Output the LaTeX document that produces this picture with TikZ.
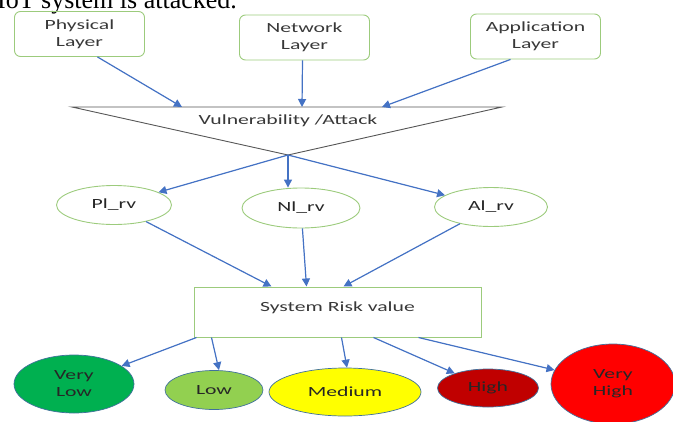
\documentclass[tikz,border=0pt]{standalone}
\usepackage{fontspec}
\setmainfont{Carlito}[FakeStretch=1.55]
\newfontfamily\pagefont{Liberation Serif}
\usetikzlibrary{arrows.meta,shapes.geometric,calc}
\definecolor{boxgreen}{HTML}{9CCB7C}
\definecolor{arrowblue}{HTML}{4472C4}
\definecolor{edgegray}{HTML}{555555}
\definecolor{labelgray}{HTML}{383838}
\definecolor{rimblue}{HTML}{41719C}
\definecolor{vlowgreen}{HTML}{00B050}
\definecolor{lowgreen}{HTML}{92D050}
\definecolor{medyellow}{HTML}{FFFF00}
\definecolor{highred}{HTML}{C00000}
\definecolor{vhighred}{HTML}{FF0000}

\begin{document}
\begin{tikzpicture}[x=1pt,y=-1pt,>={Triangle[width=8pt,length=8pt]},
  layer/.style={draw=boxgreen, line width=0.9pt, rounded corners=6pt, minimum width=130pt, minimum height=45pt, align=center, text=labelgray, font=\fontsize{14}{17}\selectfont},
  rv/.style={ellipse, draw=boxgreen, line width=0.9pt, inner sep=0pt, minimum width=115pt, minimum height=39pt, text=black!85, font=\fontsize{14}{17}\selectfont},
  risk/.style={ellipse, draw=rimblue, line width=0.7pt, inner sep=0pt, align=center, text=black!85, font=\fontsize{14}{17}\selectfont},
  link/.style={->, draw=arrowblue, fill=arrowblue, line width=1.2pt}]

  \useasboundingbox (0,0) rectangle (673,421);

  % text of the page above the figure
  \node[anchor=base west, inner sep=0pt, font=\pagefont\fontsize{26}{26}\selectfont] (cap) at (-3,8) {IoT system is attacked.};

  % layers
  \node[layer] (P) at (79.5,34)  {Physical\\Layer};
  \node[layer] (N) at (304.5,37.5) {Network\\Layer};
  \node[layer] (A) at (535.5,36.5) {Application\\Layer};

  % vulnerability / attack funnel
  \coordinate (tl)  at (72,107);
  \coordinate (tr)  at (502,107);
  \coordinate (tip) at (288,155);
  \coordinate (v1)  at (182,107);
  \coordinate (v2)  at (302,107);
  \coordinate (v3)  at (382,107);
  \draw[edgegray, line width=0.9pt] (tl) -- (tr) -- (tip) -- cycle;
  \node[text=labelgray, font=\fontsize{14}{17}\selectfont] (V) at (288,121) {Vulnerability /Attack};

  % risk values of the layers
  \node[rv] (Pl) at (114,205) {Pl\_rv};
  \node[rv, minimum width=118pt, minimum height=40pt] (Nl) at (301,208) {Nl\_rv};
  \node[rv, minimum width=113pt] (Al) at (491,207) {Al\_rv};

  % system risk
  \node[draw=boxgreen, line width=1pt, minimum width=287pt, minimum height=50pt, text height=9pt, text depth=11pt, text=labelgray, font=\fontsize{14}{17}\selectfont] (S) at (337.5,312) {System Risk value};

  % risk levels
  \node[risk, fill=vlowgreen, minimum width=120pt, minimum height=58pt] (VL) at (74,384) {Very\\Low};
  \node[risk, fill=lowgreen, minimum width=98pt, minimum height=39pt]  (Lo) at (214,390) {Low};
  \node[risk, fill=medyellow, minimum width=152pt, minimum height=48pt] (Me) at (345,392) {Medium};
  \node[risk, fill=highred, minimum width=101pt, minimum height=38pt]  (Hi) at (488,388) {High};
  \node[risk, fill=vhighred, minimum width=124pt, minimum height=80pt] (VH) at (613,384) {Very\\High};

  \draw[link] ([xshift=18pt]P.south) -- (v1);
  \draw[link] ([xshift=-2pt]N.south) -- (v2);
  \draw[link] ([xshift=-25pt]A.south) -- (v3);

  \draw[link] (tip) -- (Pl);
  \draw[link] (tip) -- (tip |- Nl.north);
  \draw[link] (tip) -- (Al);

  \draw[link] (Pl) -- ([xshift=-66pt]S.north);
  \draw[link] (Nl) -- ([xshift=-31pt]S.north);
  \draw[link] (Al) -- ([xshift=6pt]S.north);

  \draw[link] ([xshift=3pt]S.south west) -- (VL);
  \draw[link] ([xshift=18pt]S.south west) -- ([xshift=5pt]Lo.north);
  \draw[link] ([xshift=4pt]S.south) -- ([xshift=2pt]Me.north);
  \draw[link] ([xshift=36pt]S.south) -- (Hi);
  \draw[link] ([xshift=81pt]S.south) -- (VH);
\end{tikzpicture}
\end{document}
